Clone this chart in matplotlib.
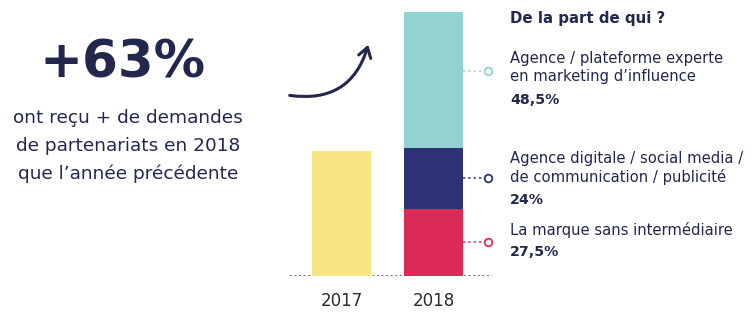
import matplotlib.pyplot as plt
from matplotlib.patches import FancyArrowPatch

# data
years = ['2017', '2018']
val_2017 = 47.5
seg_names = ['La marque sans intermédiaire',
             'Agence digitale / social media /\nde communication / publicité',
             'Agence / plateforme experte\nen marketing d\u2019influence']
seg_labels = ['27,5%', '24%', '48,5%']
seg_heights = [25.5, 23.0, 51.5]   # as drawn in the picture
seg_colors = ['#dc2a56', '#2c3273', '#90d3d0']

navy = '#23274d'
plt.rcParams['font.family'] = ['DejaVu Sans']

fig = plt.figure(figsize=(7.55, 3.15), dpi=100)
W, H = 755, 315

# bar axes placed so the bars sit where they are in the picture
ax = fig.add_axes([290 / W, (H - 276) / H, 202 / W, 264 / H])
ax.set_xlim(-0.56, 1.636)
ax.set_ylim(0, 100)
ax.axis('off')

bw = 0.64
ax.bar(0, val_2017, width=bw, color='#f7e583')
bottom = 0
for h, c in zip(seg_heights, seg_colors):
    ax.bar(1, h, width=bw, bottom=bottom, color=c)
    mid = bottom + h / 2
    if c == seg_colors[-1]:
        mid += 3.5
    ax.plot([1 + bw / 2, 1.59], [mid, mid], ls=(0, (1.5, 2)), lw=1.1, color=c)
    ax.plot(1.59, mid, 'o', ms=5.5, mfc='white', mec=c, mew=1.3)
    bottom += h
ax.axhline(0, ls=(0, (1.2, 1.8)), lw=1.1, color='#444444', zorder=0)

for i, y in enumerate(years):
    ax.text(i, -6, y, ha='center', va='top', fontsize=12, color='#2a2a2a',
            clip_on=False)

# curved arrow
arr = FancyArrowPatch((287 / W, 1 - 95 / H), (369 / W, 1 - 42 / H),
                      transform=fig.transFigure, connectionstyle='arc3,rad=0.45',
                      arrowstyle='->,head_length=7,head_width=4.5',
                      lw=2.2, color=navy)
fig.patches.append(arr)

# left text
fig.text(123 / W, 1 - 64 / H, '+63%', ha='center', va='center',
         fontsize=37, fontweight='bold', color=navy)
left_lines = ['ont reçu + de demandes', 'de partenariats en 2018',
              'que l\u2019année précédente']
for k, t in enumerate(left_lines):
    fig.text(128 / W, 1 - (118 + 28 * k) / H, t, ha='center', va='center',
             fontsize=13.3, color=navy)

# right text
tx = 510 / W
fig.text(tx, 1 - 18 / H, 'De la part de qui ?', va='center', fontsize=10.8,
         fontweight='bold', color=navy)
name_y = [230, 168, 68]
pct_y = [252, 200, 100]
for n, p, ny, py in zip(seg_names, seg_labels, name_y, pct_y):
    fig.text(tx, 1 - ny / H, n, va='center', fontsize=10.6, color=navy,
             linespacing=1.25)
    fig.text(tx, 1 - py / H, p, va='center', fontsize=10.2, fontweight='bold',
             color=navy)

fig.savefig('out.png', dpi=100, facecolor='white')
